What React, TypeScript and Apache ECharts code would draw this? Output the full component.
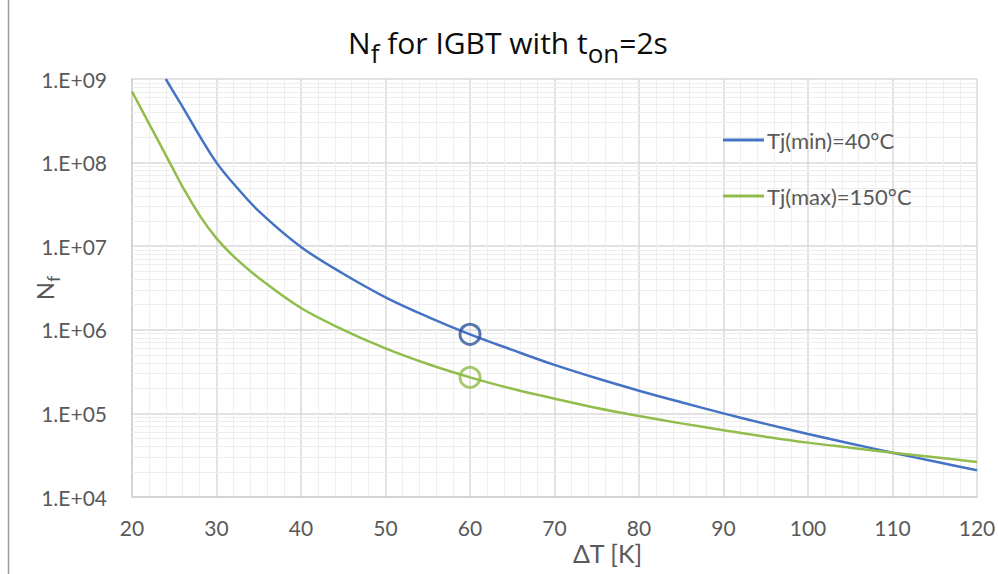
import React, { useEffect, useRef } from 'react';
import * as echarts from 'echarts';

// ΔT [K] and cycles to failure for Tj(min)=40°C
const deltaTMin = [24, 25, 26, 28, 30, 32, 35, 40, 45, 50, 55, 60, 65, 70, 75, 80, 85, 90, 95, 100, 105, 110, 115, 120];
const nfMin = [1.0e9, 6.76e8, 4.62e8, 2.09e8, 1.0e8, 5.62e7, 2.63e7, 9.8e6, 4.68e6, 2.45e6, 1.43e6, 8.83e5, 5.75e5, 3.8e5, 2.63e5, 1.87e5, 1.36e5, 1.0e5, 7.5e4, 5.68e4, 4.37e4, 3.39e4, 2.66e4, 2.09e4];

// ΔT [K] and cycles to failure for Tj(max)=150°C
const deltaTMax = [20, 22, 24, 25, 26, 28, 30, 32, 35, 40, 45, 50, 55, 60, 65, 70, 75, 80, 85, 90, 95, 100, 105, 110, 115, 120];
const nfMax = [7.08e8, 2.95e8, 1.23e8, 7.9e7, 5.1e7, 2.34e7, 1.24e7, 7.6e6, 4.17e6, 1.82e6, 1.0e6, 6.0e5, 3.9e5, 2.7e5, 1.97e5, 1.5e5, 1.16e5, 9.3e4, 7.6e4, 6.3e4, 5.27e4, 4.47e4, 3.89e4, 3.39e4, 2.99e4, 2.63e4];

// highlighted operating points at ΔT = 60 K
const markerMin = [60, 8.83e5];
const markerMax = [60, 2.7e5];

const seriesNames = ['Tj(min)=40°C', 'Tj(max)=150°C'];
const yTickLabels = ['1.E+04', '1.E+05', '1.E+06', '1.E+07', '1.E+08', '1.E+09'];
const decadeStarts = [1e4, 1e5, 1e6, 1e7, 1e8];
const minorMultipliers = [2, 3, 4, 5, 6, 7, 8, 9];

const FONT = 'Lato';
const TITLE_FONT = 'Open Sans';
const GRAY = '#595959';
const BLUE = '#4472C4';
const GREEN = '#92BD4C';

export default function App() {
  const ref = useRef<HTMLDivElement>(null);

  useEffect(() => {
    if (!ref.current) return;
    const chart = echarts.init(ref.current, undefined, { renderer: 'svg' });

    const minorValues: number[] = [];
    decadeStarts.forEach((d) => minorMultipliers.forEach((m) => minorValues.push(d * m)));

    const option: any = {
      animation: false,
      backgroundColor: '#ffffff',
      title: {
        text: '{m|N}{s|f}{m| for IGBT with t}{s|on}{m|=2s}',
        left: 508,
        textAlign: 'center',
        top: 27,
        padding: 0,
        textStyle: {
          fontWeight: 'normal',
          rich: {
            m: { fontFamily: TITLE_FONT, fontSize: 30, fontWeight: 'normal', color: '#0d0d0d', lineHeight: 34, verticalAlign: 'top' },
            s: { fontFamily: TITLE_FONT, fontSize: 26, fontWeight: 'normal', color: '#0d0d0d', lineHeight: 30, verticalAlign: 'top', padding: [13, 0, 0, 0] },
          },
        },
      },
      legend: {
        orient: 'vertical',
        left: 718,
        top: 122,
        icon: 'rect',
        itemWidth: 41,
        itemHeight: 3,
        itemGap: 30,
        data: seriesNames,
        textStyle: { fontFamily: FONT, fontSize: 22, color: GRAY, lineHeight: 26, padding: [0, 0, 0, -2] },
      },
      grid: { left: 132, right: 21, top: 79, bottom: 77, containLabel: false, outerBoundsMode: 'none' },
      xAxis: {
        type: 'value',
        min: 20,
        max: 120,
        interval: 10,
        name: 'ΔT [K]',
        nameLocation: 'middle',
        nameGap: 43,
        nameMoveOverlap: false,
        nameTextStyle: { fontFamily: FONT, fontSize: 25, color: GRAY, padding: [0, 0, 0, 106] },
        axisLine: { show: true, lineStyle: { color: '#cfcfcf', width: 1.5 } },
        axisTick: { show: false },
        axisLabel: { fontFamily: FONT, fontSize: 21, color: GRAY, margin: 20 },
        splitLine: { show: true, lineStyle: { color: '#d9d9d9', width: 1.5 } },
        minorTick: { show: false, splitNumber: 5 },
        minorSplitLine: { show: true, lineStyle: { color: '#eeeeee', width: 1 } },
      },
      yAxis: {
        type: 'log',
        logBase: 10,
        min: 1e4,
        max: 1e9,
        name: '{m|N}{s|f}',
        nameLocation: 'middle',
        nameGap: 74,
        nameMoveOverlap: false,
        nameRotate: 90,
        nameTextStyle: {
          rich: {
            m: { fontFamily: FONT, fontSize: 24, color: GRAY, lineHeight: 26, verticalAlign: 'top' },
            s: { fontFamily: FONT, fontSize: 18, color: GRAY, lineHeight: 20, verticalAlign: 'top', padding: [12, 0, 0, 0] },
          },
        },
        axisLine: { show: true, lineStyle: { color: '#cfcfcf', width: 1.5 } },
        axisTick: { show: false },
        axisLabel: {
          fontFamily: FONT,
          fontSize: 21,
          color: GRAY,
          margin: 25,
          formatter: (v: number) => yTickLabels[Math.round(Math.log10(v)) - 4] ?? '',
        },
        splitLine: { show: true, lineStyle: { color: '#d9d9d9', width: 1.5 } },
      },
      graphic: [
        {
          type: 'line',
          shape: { x1: 8.5, y1: 0, x2: 8.5, y2: 574 },
          style: { stroke: '#9a9a9a', lineWidth: 1.5 },
          silent: true,
        },
      ],
      series: [
        {
          type: 'line',
          data: [],
          silent: true,
          z: 1,
          markLine: {
            z: 1,
            silent: true,
            symbol: ['none', 'none'],
            label: { show: false },
            lineStyle: { color: '#eeeeee', width: 1, type: 'solid' },
            emphasis: { disabled: true },
            data: minorValues.map((v) => ({ yAxis: v })),
          },
        },
        {
          name: seriesNames[0],
          type: 'line',
          data: deltaTMin.map((t, i) => [t, nfMin[i]]),
          symbol: 'none',
          smooth: 0.35,
          z: 3,
          lineStyle: { color: BLUE, width: 2.5 },
          itemStyle: { color: BLUE },
        },
        {
          name: seriesNames[1],
          type: 'line',
          data: deltaTMax.map((t, i) => [t, nfMax[i]]),
          symbol: 'none',
          smooth: 0.35,
          z: 3,
          lineStyle: { color: GREEN, width: 2.5 },
          itemStyle: { color: GREEN },
        },
        {
          type: 'scatter',
          data: [markerMin],
          symbol: 'circle',
          symbolSize: 20,
          z: 4,
          itemStyle: { color: 'rgba(0,0,0,0)', borderColor: '#2F5597', borderWidth: 3 },
        },
        {
          type: 'scatter',
          data: [markerMax],
          symbol: 'circle',
          symbolSize: 20,
          z: 4,
          itemStyle: { color: 'rgba(0,0,0,0)', borderColor: '#8FBC48', borderWidth: 3 },
        },
      ],
    };

    chart.setOption(option);
    return () => chart.dispose();
  }, []);

  return (
    <div
      ref={ref}
      style={{ position: 'absolute', left: 0, top: 0, width: 998, height: 574 }}
    />
  );
}
